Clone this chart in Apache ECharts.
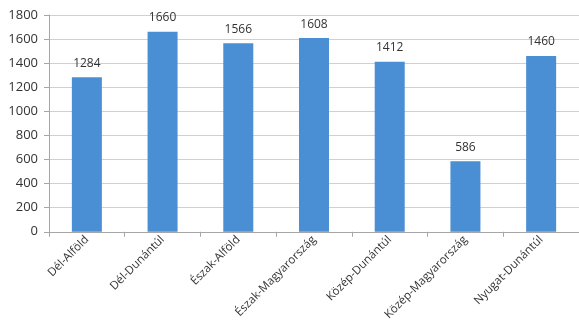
<!DOCTYPE html>
<html>
<head>
<meta charset="utf-8">
<script src="https://cdn.jsdelivr.net/npm/echarts@6/dist/echarts.min.js"></script>
<style>
  html, body { margin: 0; padding: 0; background: #fff; }
  #main { width: 579px; height: 323px; }
</style>
</head>
<body>
<div id="main"></div>
<script>
// régiók és értékek
var categories = ['Dél-Alföld', 'Dél-Dunántúl', 'Észak-Alföld', 'Észak-Magyarország',
                  'Közép-Dunántúl', 'Közép-Magyarország', 'Nyugat-Dunántúl'];
var values = [1284, 1660, 1566, 1608, 1412, 586, 1460];

var myChart = echarts.init(document.getElementById('main'));

var option = {
    animation: false,
    textStyle: { fontFamily: 'Open Sans' },
    grid: { left: 49, top: 15, width: 534, bottom: 85, containLabel: false },
    xAxis: {
        type: 'category',
        data: categories,
        axisLine: { lineStyle: { color: '#a6a6a6' } },
        axisTick: { show: true, alignWithLabel: false, length: 5, lineStyle: { color: '#a6a6a6' } },
        axisLabel: { rotate: 45, interval: 0, color: '#333', fontSize: 11.5, margin: 6 }
    },
    yAxis: {
        type: 'value',
        min: 0, max: 1800, interval: 200,
        axisLine: { show: true, lineStyle: { color: '#a6a6a6' } },
        axisTick: { show: true, length: 5, lineStyle: { color: '#a6a6a6' } },
        splitLine: { lineStyle: { color: '#d0d0d0' } },
        axisLabel: { color: '#333', fontSize: 13, margin: 11, formatter: function (v) { return String(v); } }
    },
    series: [{
        type: 'bar',
        data: values,
        barWidth: 30,
        itemStyle: { color: '#4a8ed4' },
        label: { show: true, position: 'top', distance: 8, color: '#333', fontSize: 12 }
    }]
};

myChart.setOption(option);
</script>
</body>
</html>
